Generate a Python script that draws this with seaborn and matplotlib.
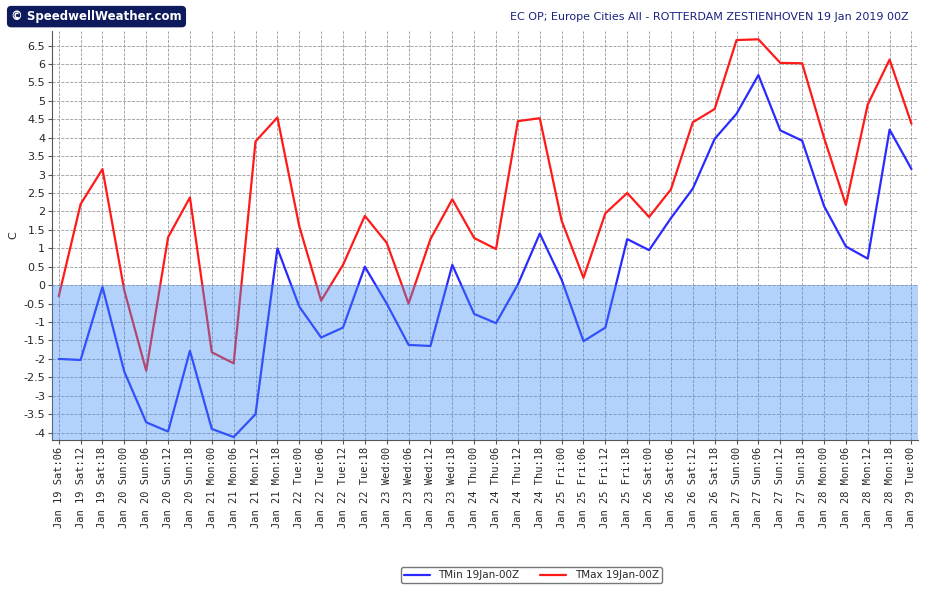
import matplotlib
matplotlib.use("Agg")
import matplotlib.pyplot as plt
import seaborn as sns
import pandas as pd

days = ["Jan 19 Sat", "Jan 20 Sun", "Jan 21 Mon", "Jan 22 Tue", "Jan 23 Wed",
        "Jan 24 Thu", "Jan 25 Fri", "Jan 26 Sat", "Jan 27 Sun", "Jan 28 Mon", "Jan 29 Tue"]
labels = []
for i, d in enumerate(days):
    for h in ["00", "06", "12", "18"]:
        labels.append(d + ":" + h)
labels = labels[1:-3]

tmin = [-2.0, -2.03, -0.05, -2.35, -3.72, -3.97, -1.78, -3.9, -4.12, -3.5,
        1.0, -0.58, -1.42, -1.15, 0.5, -0.5, -1.62, -1.65, 0.55, -0.78,
        -1.03, 0.02, 1.4, 0.15, -1.52, -1.15, 1.25, 0.95, 1.82, 2.62,
        3.97, 4.65, 5.7, 4.2, 3.92, 2.15, 1.05, 0.72, 4.22, 3.15]
tmax = [-0.3, 2.2, 3.15, -0.15, -2.32, 1.3, 2.38, -1.82, -2.12, 3.9,
        4.55, 1.6, -0.42, 0.55, 1.88, 1.15, -0.5, 1.25, 2.33, 1.28,
        0.98, 4.45, 4.53, 1.75, 0.2, 1.95, 2.5, 1.85, 2.6, 4.42,
        4.78, 6.65, 6.67, 6.03, 6.02, 4.0, 2.18, 4.9, 6.12, 4.38]

df = pd.DataFrame({"x": range(len(labels)), "TMin 19Jan-00Z": tmin, "TMax 19Jan-00Z": tmax})
long = df.melt(id_vars="x", var_name="series", value_name="C")

sns.set_style("white")
fig = plt.figure(figsize=(9.32, 5.93), dpi=100)
ax = fig.add_axes([0.056, 0.258, 0.929, 0.69])
ax.set_facecolor("white")
ymin, ymax = -4.2, 6.9
sns.lineplot(data=long, x="x", y="C", hue="series",
             palette={"TMin 19Jan-00Z": "#2a2aff", "TMax 19Jan-00Z": "#ff1a1a"},
             linewidth=1.6, ax=ax, zorder=3)
ax.axhspan(ymin, 0, color="#3f8ef5", alpha=0.4, zorder=4, linewidth=0)
ax.set_xlim(-0.3, len(labels) - 0.7)
ax.set_ylim(ymin, ymax)
ax.set_xticks(range(len(labels)))
ax.set_xticklabels(labels, rotation=90, fontsize=7.5, family="DejaVu Sans Mono")
yt = [v / 2 for v in range(-8, 14)]
ax.set_yticks(yt)
ax.set_yticklabels([("%g" % v) for v in yt], fontsize=8)
ax.grid(True, color="#999999", linestyle="--", linewidth=0.6)
ax.set_xlabel("")
ax.set_ylabel("C", fontsize=8)
for s in ["top", "right"]:
    ax.spines[s].set_visible(False)
ax.spines["left"].set_color("#555555")
ax.spines["bottom"].set_color("#555555")
ax.tick_params(axis="both", length=3, color="#555555", direction="out", left=True, bottom=True, pad=2)

h, l = ax.get_legend_handles_labels()
ax.get_legend().remove()
fig.legend(h, l, loc="center", bbox_to_anchor=(0.57, 0.03), ncol=2, fontsize=7.5,
           frameon=True, edgecolor="#555555", fancybox=True, handlelength=2.5,
           borderpad=0.3)

fig.text(0.975, 0.972, "EC OP; Europe Cities All - ROTTERDAM ZESTIENHOVEN 19 Jan 2019 00Z",
         ha="right", va="center", fontsize=8, color="#1a237e")
fig.text(0.012, 0.972, "© SpeedwellWeather.com", ha="left", va="center", fontsize=8.5,
         color="white", fontweight="bold",
         bbox=dict(boxstyle="round,pad=0.3", facecolor="#0d1a5c", edgecolor="#0d1a5c"))

fig.savefig("out.png", dpi=100)
